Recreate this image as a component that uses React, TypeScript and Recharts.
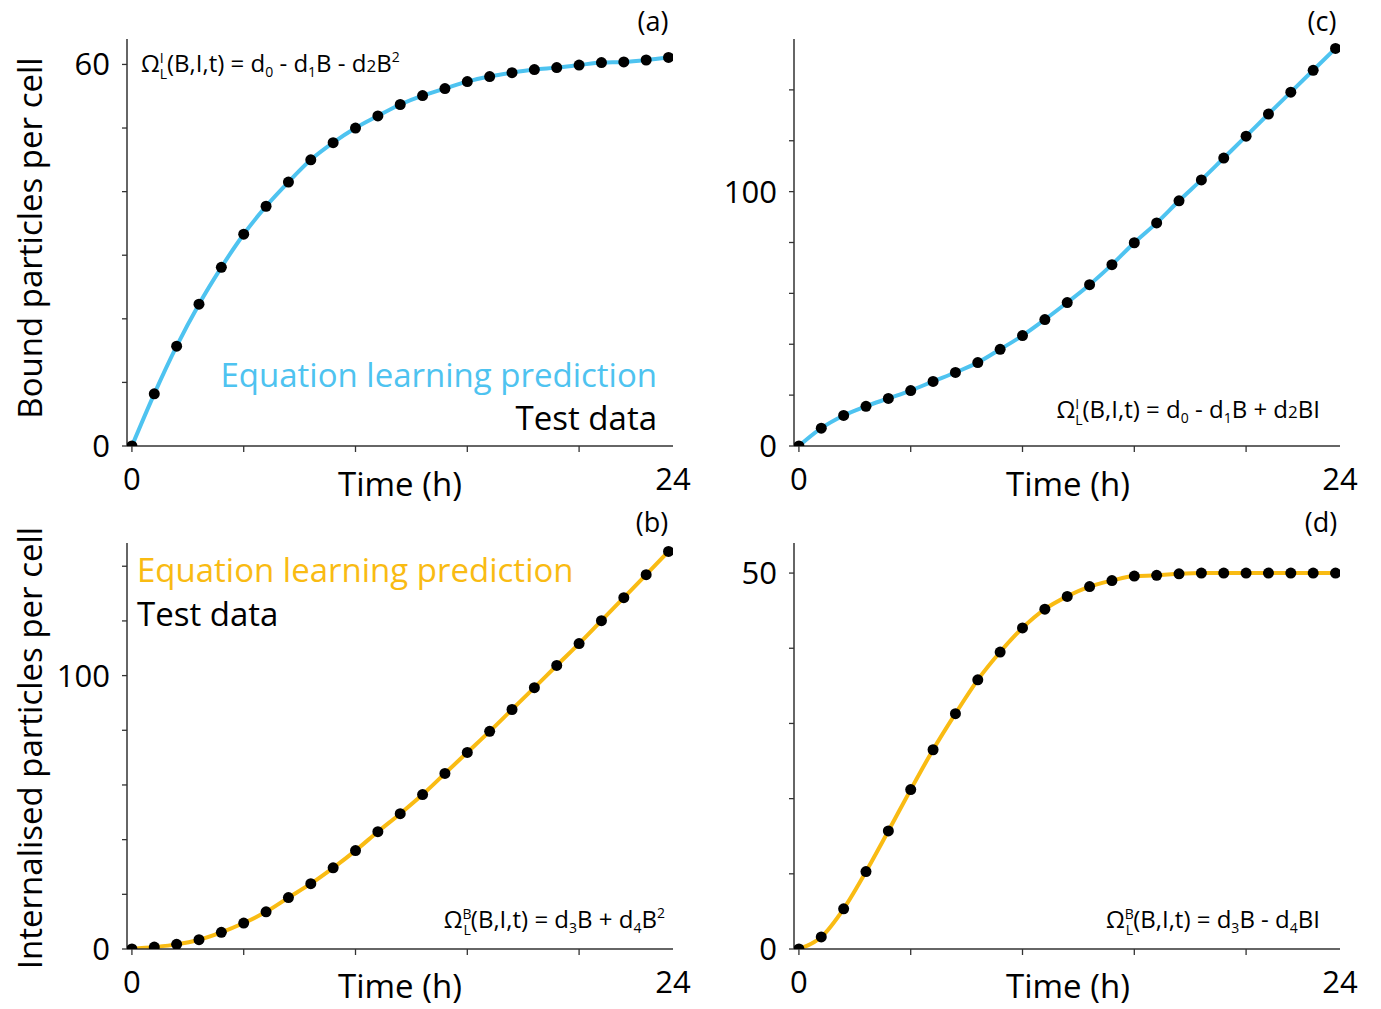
import React from 'react';
import { ComposedChart, Line, XAxis, YAxis } from 'recharts';

const TIME = [0, 1, 2, 3, 4, 5, 6, 7, 8, 9, 10, 11, 12, 13, 14, 15, 16, 17, 18, 19, 20, 21, 22, 23, 24];
const BOUND_A = [0, 8.2, 15.7, 22.3, 28.1, 33.3, 37.7, 41.5, 45.0, 47.7, 50.0, 51.9, 53.7, 55.1, 56.2, 57.3, 58.1, 58.7, 59.2, 59.5, 59.9, 60.3, 60.4, 60.7, 61.1];
const BOUND_C = [0, 7.0, 12.0, 15.6, 18.7, 21.8, 25.4, 28.9, 32.8, 38.0, 43.4, 49.7, 56.4, 63.4, 71.3, 79.9, 87.7, 96.4, 104.6, 113.2, 121.8, 130.5, 139.1, 147.7, 156.3];
const INTERNAL_B = [0, 0.7, 1.7, 3.4, 6.1, 9.5, 13.6, 18.8, 23.9, 29.7, 36.0, 42.9, 49.5, 56.5, 64.2, 71.9, 79.6, 87.6, 95.6, 103.7, 111.7, 120.1, 128.5, 136.9, 145.4];
const INTERNAL_D = [0, 1.6, 5.35, 10.3, 15.7, 21.2, 26.5, 31.3, 35.8, 39.5, 42.7, 45.2, 46.9, 48.2, 49.0, 49.6, 49.7, 49.9, 50.0, 50.0, 50.0, 50.0, 50.0, 50.0, 50.0];

const X_MIN = -0.22;
const X_MAX = 24.2;
const X_TICKS = [0, 5, 10, 15, 20];
const X_LABELS = ['0', '24'];

const Y_TICKS_A = [0, 10, 20, 30, 40, 50, 60];
const Y_LABELS_A = [0, 60];
const Y_TICKS_C = [0, 20, 40, 60, 80, 100, 120, 140];
const Y_LABELS_C = [0, 100];
const Y_TICKS_B = [0, 20, 40, 60, 80, 100, 120, 140];
const Y_LABELS_B = [0, 100];
const Y_TICKS_D = [0, 10, 20, 30, 40, 50];
const Y_LABELS_D = [0, 50];

const BLUE = '#4EC3F0';
const ORANGE = '#F9BB13';
const AXIS = '#333';
const FONT = '"Open Sans", sans-serif';

const PLOT_W = 546;
const YAXIS_W = 127;
const MT = 10;
const MR = 20;
const XAXIS_H = 60;
const TICK_FS = 31;

const XTick = (props: any) => {
  const { x, y, payload } = props;
  const v = payload.value;
  const isEnd = v === X_MAX;
  return (
    <g>
      {!isEnd && <line x1={x} x2={x} y1={y - 6} y2={y} stroke={AXIS} strokeWidth={1.3} />}
      {(v === 0 || isEnd) && (
        <text x={x} y={y + 38} textAnchor="middle" fontSize={TICK_FS} fill="#000" fontFamily={FONT}>
          {isEnd ? X_LABELS[1] : X_LABELS[0]}
        </text>
      )}
    </g>
  );
};

const makeYTick = (labels: number[]) => (props: any) => {
  const { x, y, payload } = props;
  const v = payload.value;
  return (
    <g>
      <line x1={x} x2={x + 5} y1={y} y2={y} stroke={AXIS} strokeWidth={1.3} />
      {labels.includes(v) && (
        <text x={x - 12} y={y + 11} textAnchor="end" fontSize={TICK_FS} fill="#000" fontFamily={FONT}>
          {String(v)}
        </text>
      )}
    </g>
  );
};

type PanelProps = {
  plotLeft: number;
  plotTop: number;
  plotH: number;
  values: number[];
  color: string;
  yMax: number;
  yTicks: number[];
  yLabels: number[];
};

const Panel = ({ plotLeft, plotTop, plotH, values, color, yMax, yTicks, yLabels }: PanelProps) => {
  const data = TIME.map((t, i) => ({ t, v: values[i] }));
  const W = YAXIS_W + PLOT_W + MR;
  const H = MT + plotH + XAXIS_H;
  return (
    <div style={{ position: 'absolute', left: plotLeft - YAXIS_W, top: plotTop - MT, width: W, height: H }}>
      <ComposedChart width={W} height={H} data={data} margin={{ top: MT, right: MR, bottom: 0, left: 0 }}>
        <XAxis
          dataKey="t"
          type="number"
          domain={[X_MIN, X_MAX]}
          ticks={[...X_TICKS, X_MAX]}
          tick={<XTick />}
          tickLine={false}
          tickSize={6}
          tickMargin={0}
          interval={0}
          height={XAXIS_H}
          axisLine={{ stroke: AXIS, strokeWidth: 1.5 }}
          allowDataOverflow
        />
        <XAxis
          xAxisId="top"
          orientation="top"
          type="number"
          domain={[X_MIN, X_MAX]}
          tick={false}
          tickLine={false}
          height={0}
          axisLine={{ stroke: AXIS, strokeWidth: 1.5 }}
        />
        <YAxis
          type="number"
          domain={[0, yMax]}
          ticks={yTicks}
          tick={makeYTick(yLabels)}
          tickLine={false}
          tickSize={5}
          tickMargin={0}
          interval={0}
          width={YAXIS_W}
          axisLine={{ stroke: AXIS, strokeWidth: 1.5 }}
          allowDataOverflow
        />
        <YAxis
          yAxisId="right"
          orientation="right"
          type="number"
          domain={[0, yMax]}
          tick={false}
          tickLine={false}
          width={0}
          axisLine={{ stroke: AXIS, strokeWidth: 1.5 }}
        />
        <Line
          dataKey="v"
          type="monotone"
          stroke={color}
          strokeWidth={4}
          dot={false}
          activeDot={false}
          isAnimationActive={false}
        />
        <Line
          dataKey="v"
          type="linear"
          stroke="none"
          strokeWidth={0}
          dot={{ r: 5.5, fill: '#000', stroke: 'none' }}
          activeDot={false}
          isAnimationActive={false}
        />
      </ComposedChart>
    </div>
  );
};

const SM = 14;
const TITLE_FS = 33;

const Annotations = () => (
  <svg width={1381} height={1009} style={{ position: 'absolute', left: 0, top: 0, pointerEvents: 'none' }} fontFamily={FONT}>
    {/* panel labels */}
    <text x={653} y={31} fontSize={27} textAnchor="middle">(a)</text>
    <text x={1322} y={31} fontSize={27} textAnchor="middle">(c)</text>
    <text x={652} y={532} fontSize={27} textAnchor="middle">(b)</text>
    <text x={1321} y={532} fontSize={27} textAnchor="middle">(d)</text>

    {/* axis titles */}
    <text x={400} y={496} fontSize={TITLE_FS} textAnchor="middle">Time (h)</text>
    <text x={1068} y={496} fontSize={TITLE_FS} textAnchor="middle">Time (h)</text>
    <text x={400} y={998} fontSize={TITLE_FS} textAnchor="middle">Time (h)</text>
    <text x={1068} y={998} fontSize={TITLE_FS} textAnchor="middle">Time (h)</text>
    <text x={42} y={238} fontSize={TITLE_FS} textAnchor="middle" transform="rotate(-90 42 238)">Bound particles per cell</text>
    <text x={42} y={748} fontSize={TITLE_FS} textAnchor="middle" transform="rotate(-90 42 748)">Internalised particles per cell</text>

    {/* legends */}
    <text x={657} y={387} fontSize={TITLE_FS} textAnchor="end" fill={BLUE}>Equation learning prediction</text>
    <text x={657} y={430} fontSize={TITLE_FS} textAnchor="end" fill="#000">Test data</text>
    <text x={137} y={582} fontSize={TITLE_FS} textAnchor="start" fill={ORANGE}>Equation learning prediction</text>
    <text x={137} y={626} fontSize={TITLE_FS} textAnchor="start" fill="#000">Test data</text>

    {/* equations */}
    <text x={141} y={72} fontSize={24} textAnchor="start">
      Ω
      <tspan fontSize={SM} dy={-9}>I</tspan>
      <tspan fontSize={SM} dx={-4} dy={16}>L</tspan>
      <tspan dy={-7}>(B,I,t) = d</tspan>
      <tspan fontSize={SM} dy={5}>0</tspan>
      <tspan dy={-5}> - d</tspan>
      <tspan fontSize={SM} dy={5}>1</tspan>
      <tspan dy={-5}>B - d</tspan>
      <tspan fontSize={17}>2</tspan>
      <tspan>B</tspan>
      <tspan fontSize={SM} dy={-10}>2</tspan>
    </text>

    <text x={1320} y={418} fontSize={24} textAnchor="end">
      Ω
      <tspan fontSize={SM} dy={-9}>I</tspan>
      <tspan fontSize={SM} dx={-4} dy={16}>L</tspan>
      <tspan dy={-7}>(B,I,t) = d</tspan>
      <tspan fontSize={SM} dy={5}>0</tspan>
      <tspan dy={-5}> - d</tspan>
      <tspan fontSize={SM} dy={5}>1</tspan>
      <tspan dy={-5}>B + d</tspan>
      <tspan fontSize={17}>2</tspan>
      <tspan>BI</tspan>
    </text>

    <text x={665} y={928} fontSize={24} textAnchor="end">
      Ω
      <tspan fontSize={SM} dy={-9}>B</tspan>
      <tspan fontSize={SM} dx={-8} dy={16}>L</tspan>
      <tspan dy={-7}>(B,I,t) = d</tspan>
      <tspan fontSize={SM} dy={5}>3</tspan>
      <tspan dy={-5}>B + d</tspan>
      <tspan fontSize={SM} dy={5}>4</tspan>
      <tspan dy={-5}>B</tspan>
      <tspan fontSize={SM} dy={-10}>2</tspan>
    </text>

    <text x={1320} y={928} fontSize={24} textAnchor="end">
      Ω
      <tspan fontSize={SM} dy={-9}>B</tspan>
      <tspan fontSize={SM} dx={-8} dy={16}>L</tspan>
      <tspan dy={-7}>(B,I,t) = d</tspan>
      <tspan fontSize={SM} dy={5}>3</tspan>
      <tspan dy={-5}>B - d</tspan>
      <tspan fontSize={SM} dy={5}>4</tspan>
      <tspan dy={-5}>BI</tspan>
    </text>
  </svg>
);

export default function App() {
  return (
    <div style={{ position: 'absolute', left: 0, top: 0, width: 1381, height: 1009, background: '#fff', fontFamily: FONT }}>
      <Panel plotLeft={127} plotTop={39} plotH={407} values={BOUND_A} color={BLUE} yMax={64} yTicks={Y_TICKS_A} yLabels={Y_LABELS_A} />
      <Panel plotLeft={794} plotTop={39} plotH={407} values={BOUND_C} color={BLUE} yMax={160} yTicks={Y_TICKS_C} yLabels={Y_LABELS_C} />
      <Panel plotLeft={127} plotTop={543} plotH={406} values={INTERNAL_B} color={ORANGE} yMax={148.5} yTicks={Y_TICKS_B} yLabels={Y_LABELS_B} />
      <Panel plotLeft={794} plotTop={543} plotH={406} values={INTERNAL_D} color={ORANGE} yMax={54} yTicks={Y_TICKS_D} yLabels={Y_LABELS_D} />
      <Annotations />
    </div>
  );
}
